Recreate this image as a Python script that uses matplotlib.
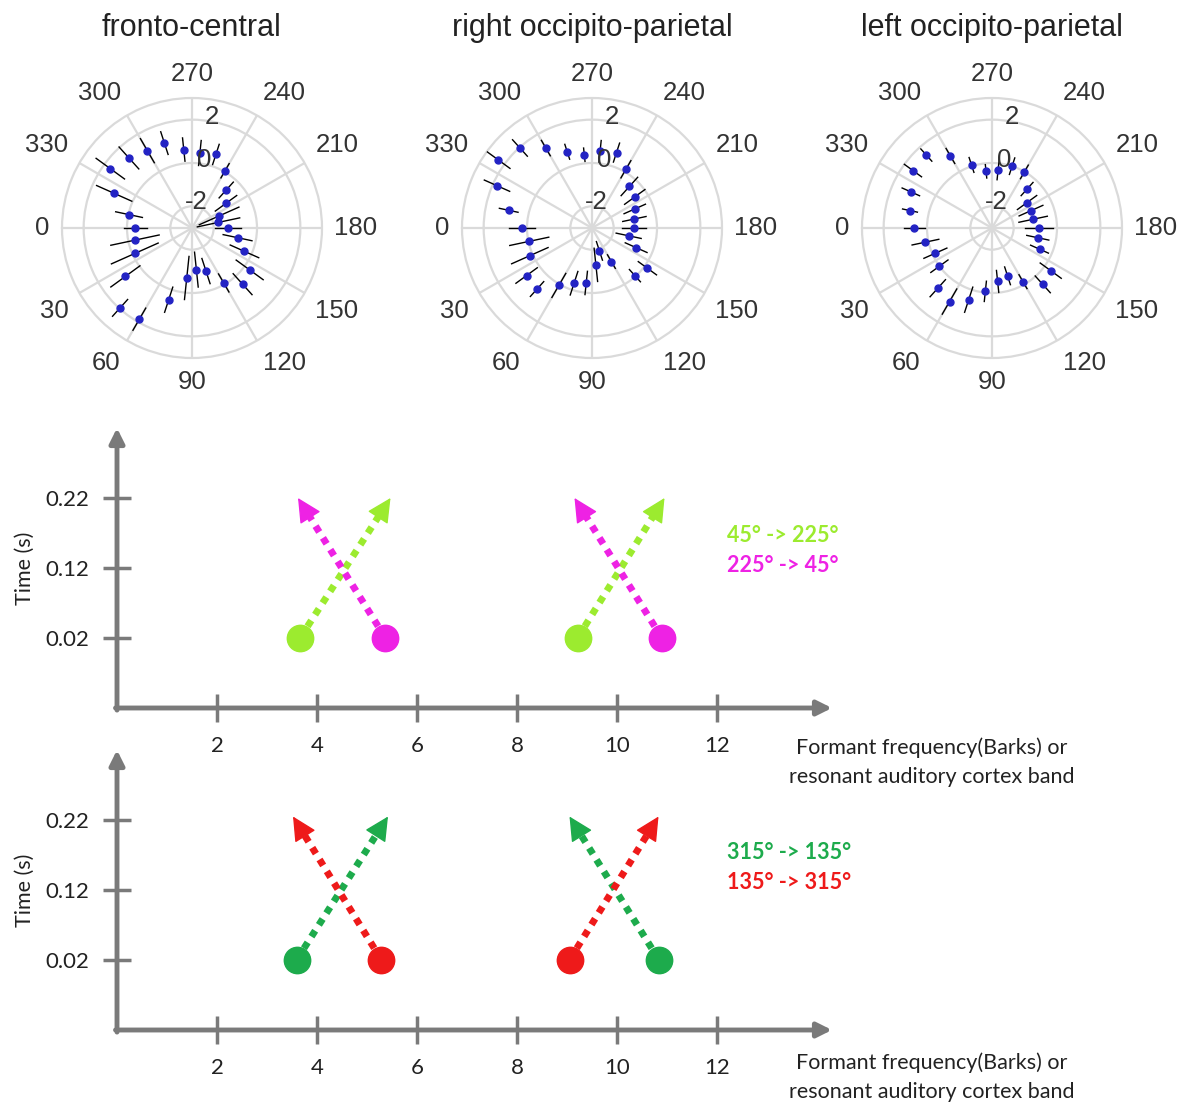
"""Polar tuning profiles per electrode cluster plus formant-transition schematics."""
import matplotlib
matplotlib.use("Agg")
import matplotlib.pyplot as plt
import numpy as np

W, H, DPI = 1183, 1103, 100

# stimulus direction (deg) shared by all three clusters
ANGLES = [0, 12, 24, 36, 48, 60, 72, 84, 96, 108, 120, 132, 144, 156, 168,
          180, 192, 204, 216, 228, 240, 252, 264, 276, 288, 300, 312, 324, 336, 348]

FC_MEAN = [-0.38, -0.31, -0.11, 0.80, 1.96, 1.86, 0.48, -0.68, -1.07, -0.91,
           -0.07, 0.49, 0.29, -0.35, -0.85, -1.34, -1.75, -1.63, -1.06, -0.64,
           0.05, 0.57, 0.48, 0.64, 1.12, 1.12, 1.35, 1.66, 0.93, -0.03]
FC_ERR = [0.54, 1.14, 1.18, 0.83, 0.52, 0.59, 0.61, 1.00, 0.81, 0.61,
          0.48, 0.65, 0.77, 0.72, 0.68, 0.62, 1.00, 1.00, 0.61, 0.49,
          0.38, 0.49, 0.58, 0.54, 0.55, 0.64, 0.68, 0.81, 0.89, 0.63]

ROP_MEAN = [0.23, -0.04, 0.14, 0.73, 0.79, 0.06, -0.32, -0.45, -1.29, -1.89,
            -1.21, -0.04, 0.16, -0.77, -1.27, -1.05, -1.00, -0.84, -0.56, -0.42,
            0.13, 0.66, 0.56, 0.40, 0.70, 1.26, 1.97, 2.34, 1.80, 0.93]
ROP_ERR = [0.62, 0.92, 0.92, 0.61, 0.46, 0.64, 0.57, 0.54, 0.77, 0.45,
           0.36, 0.38, 0.52, 0.55, 0.59, 0.56, 0.55, 0.54, 0.58, 0.57,
           0.46, 0.46, 0.50, 0.31, 0.36, 0.41, 0.51, 0.66, 0.64, 0.44]

LOP_MEAN = [0.58, 0.14, -0.14, 0.00, 0.74, 0.92, 0.48, -0.06, -0.52, -0.68,
            -0.14, 0.50, 0.35, -0.60, -0.84, -0.82, -1.06, -1.03, -1.00, -0.58,
            -0.01, 0.00, -0.29, -0.37, 0.06, 0.84, 1.53, 1.51, 1.10, 0.87]
LOP_ERR = [0.50, 0.63, 0.58, 0.49, 0.53, 0.67, 0.61, 0.47, 0.51, 0.43,
           0.37, 0.52, 0.60, 0.45, 0.52, 0.65, 0.67, 0.60, 0.55, 0.41,
           0.36, 0.40, 0.47, 0.31, 0.36, 0.40, 0.38, 0.49, 0.44, 0.35]

CLUSTERS = ["fronto-central", "right occipito-parietal", "left occipito-parietal"]
R_TICKS = [-2, 0, 2]
R_TICK_LABELS = ["-2", "0", "2"]
THETA_TICKS = [0, 30, 60, 90, 120, 150, 180, 210, 240, 270, 300, 330]

# schematic panels: formant band (Barks) and time (s)
X_TICKS = [2, 4, 6, 8, 10, 12]
Y_TICKS = [0.02, 0.12, 0.22]
Y_TICK_LABELS = ["0.02", "0.12", "0.22"]

# (x_start, y_start, x_end, y_end) per transition
UPPER_ARROWS = {
    "45_225": [(3.66, 0.02, 5.47, 0.22), (9.21, 0.02, 10.95, 0.22)],
    "225_45": [(5.37, 0.02, 3.62, 0.22), (10.90, 0.02, 9.15, 0.22)],
}
LOWER_ARROWS = {
    "315_135": [(3.59, 0.02, 5.42, 0.225), (10.84, 0.02, 9.05, 0.225)],
    "135_315": [(5.29, 0.02, 3.52, 0.225), (9.05, 0.02, 10.83, 0.225)],
}
UPPER_LEGEND = [("45° -> 225°", 0.166), ("225° -> 45°", 0.124)]
LOWER_LEGEND = [("315° -> 135°", 0.173), ("135° -> 315°", 0.131)]

GRID = "#dadada"
DOT_BLUE = "#2323c4"
AXIS_GREY = "#7a7a7a"
LIME = "#9ceb2f"
MAGENTA = "#ee22e4"
GREEN = "#1dab4c"
RED = "#ee1a1a"

POLAR_FONT = "Liberation Sans"
SCHEMA_FONT = "Lato"


def px_rect(left, top, width, height):
    return [left / W, 1 - (top + height) / H, width / W, height / H]


def plot_polar(fig, cx, cy, radius, title, mean, err):
    ax = fig.add_axes(px_rect(cx - radius, cy - radius, 2 * radius, 2 * radius),
                      projection="polar")
    ax.set_theta_zero_location("W")
    ax.set_theta_direction(1)
    ax.set_rlim(-3, 3)
    ax.set_rgrids(R_TICKS, labels=[""] * len(R_TICKS))
    ax.set_thetagrids(THETA_TICKS, labels=[""] * len(THETA_TICKS))
    ax.grid(color=GRID, linewidth=1.6)
    ax.spines["polar"].set_color(GRID)
    ax.spines["polar"].set_linewidth(1.6)
    ax.tick_params(length=0)

    theta = np.deg2rad(ANGLES)
    for t, m, e in zip(theta, mean, err):
        ax.plot([t, t], [m - e, m + e], color="black", linewidth=1.0, zorder=3)
    ax.plot(theta, mean, "o", markersize=5, color=DOT_BLUE, zorder=4)

    # angle labels sit just outside the rim, anchored on the side facing it
    for deg in THETA_TICKS:
        phi = np.deg2rad(180 + deg)
        c, s = np.cos(phi), np.sin(phi)
        ha = "left" if c > 0.3 else "right" if c < -0.3 else "center"
        va = "bottom" if s > 0.3 else "top" if s < -0.3 else "center"
        ax.text(0.5 + 0.548 * c, 0.5 + 0.548 * s, str(deg), transform=ax.transAxes,
                ha=ha, va=va, fontsize=18.5, color="#333333", family=POLAR_FONT)

    for val, lab in zip(R_TICKS, R_TICK_LABELS):
        ax.text(np.deg2rad(260), val + 0.2, lab, ha="center", va="center",
                fontsize=18.5, color="#333333", family=POLAR_FONT, zorder=5)

    fig.text(cx / W, 1 - 28 / H, title, ha="center", va="center",
             fontsize=22, color="#222222", family=POLAR_FONT)


def plot_schema(fig, top, arrows, colors, legend, xlabel_drop):
    ymin, ymax = -0.08, 0.33
    xmax = 14.5
    height = (ymax - ymin) * 700
    ax = fig.add_axes(px_rect(117, top, xmax * 50, height))
    ax.patch.set_visible(False)
    ax.set_xlim(0, xmax)
    ax.set_ylim(ymin, ymax)
    for sp in ax.spines.values():
        sp.set_visible(False)

    ax.set_xticks(X_TICKS)
    ax.set_xticklabels([str(v) for v in X_TICKS], family=SCHEMA_FONT)
    ax.set_yticks(Y_TICKS)
    ax.set_yticklabels(Y_TICK_LABELS, family=SCHEMA_FONT)
    ax.tick_params(axis="both", direction="inout", length=20, width=2.5,
                   color=AXIS_GREY, labelsize=16, labelcolor="#222222")
    ax.tick_params(axis="x", pad=10)
    ax.tick_params(axis="y", pad=10)

    axis_kw = dict(arrowstyle="-|>", color=AXIS_GREY, lw=3.5, mutation_scale=22,
                   shrinkA=0, shrinkB=0)
    ax.annotate("", xy=(14.3, ymin), xytext=(-0.03, ymin), arrowprops=axis_kw,
                annotation_clip=False)
    ax.annotate("", xy=(0, 0.32), xytext=(0, ymin - 0.003), arrowprops=axis_kw,
                annotation_clip=False)

    for key, segs in arrows.items():
        c = colors[key]
        for x0, y0, x1, y1 in segs:
            xm, ym = x0 + 0.88 * (x1 - x0), y0 + 0.88 * (y1 - y0)
            ax.plot([x0, xm], [y0, ym], color=c, linewidth=5,
                    linestyle=(0, (1, 1)), dash_capstyle="butt", zorder=3)
            ax.annotate("", xy=(x1, y1), xytext=(xm, ym),
                        arrowprops=dict(arrowstyle="-|>", color=c, lw=1,
                                        mutation_scale=38, shrinkA=0, shrinkB=0),
                        zorder=4)
            ax.plot(x0, y0, "o", markersize=19, color=c, zorder=5)

    for (text, y), key in zip(legend, arrows.keys()):
        ax.text(12.2, y, text, color=colors[key], fontsize=15.5, fontweight="bold",
                va="center", ha="left", family=SCHEMA_FONT)

    ax.text(16.3, ymin - xlabel_drop, "Formant frequency(Barks) or\nresonant auditory cortex band",
            ha="center", va="center", fontsize=15.5, linespacing=1.55,
            color="#222222", family=SCHEMA_FONT, clip_on=False)
    ax.text(-1.84, 0.12, "Time (s)", rotation=90, ha="center", va="center",
            fontsize=15.5, color="#222222", family=SCHEMA_FONT)


def main() -> None:
    fig = plt.figure(figsize=(W / DPI, H / DPI), dpi=DPI)

    plot_polar(fig, 192, 228, 130, CLUSTERS[0], FC_MEAN, FC_ERR)
    plot_polar(fig, 592, 228, 130, CLUSTERS[1], ROP_MEAN, ROP_ERR)
    plot_polar(fig, 992, 228, 130, CLUSTERS[2], LOP_MEAN, LOP_ERR)

    plot_schema(fig, 708 - 0.41 * 700, UPPER_ARROWS,
                {"45_225": LIME, "225_45": MAGENTA}, UPPER_LEGEND, 0.078)
    plot_schema(fig, 1030 - 0.41 * 700, LOWER_ARROWS,
                {"315_135": GREEN, "135_315": RED}, LOWER_LEGEND, 0.068)

    fig.savefig("out.png", dpi=DPI)
    plt.close(fig)


if __name__ == "__main__":
    main()
